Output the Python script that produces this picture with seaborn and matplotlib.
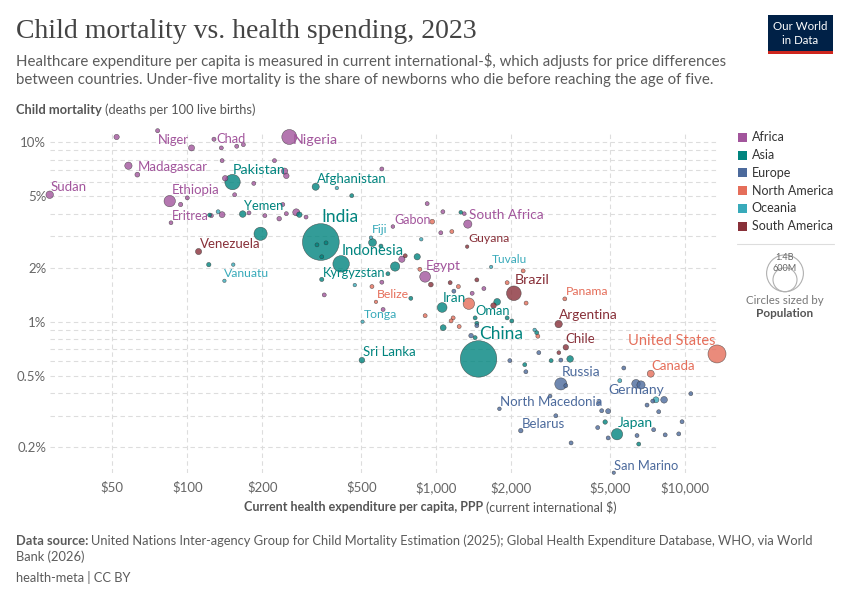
import matplotlib
matplotlib.use("Agg")
import matplotlib.pyplot as plt
import seaborn as sns
import pandas as pd
from matplotlib.patches import Rectangle, Ellipse
from matplotlib.lines import Line2D

W, H = 850, 600

# ---------------- data ----------------
# spend: current health expenditure per capita, PPP ($); mort: under-5 mortality (%); pop: millions
africa_names = ["", "", "Niger", "Chad", "", "", "", "Madagascar", "", "", "", "", "Sudan", "Ethiopia",
                "", "", "", "Eritrea", "", "", "", "", "", "", "", "Nigeria", "", "", "", "",
                "South Africa", "", "", "", "", "", "", "Gabon", "", "Egypt", "", "", "", "", ""]
africa_spend = [52, 76, 104, 128, 137, 158, 168, 58, 63, 138, 142, 185, 28, 85,
                100, 94, 155, 86, 125, 138, 177, 205, 224, 246, 250, 257, 605, 920, 1064, 1297,
                1340, 242, 250, 234, 274, 300, 728, 670, 1044, 903, 1555, 1395, 605, 355, 612]
africa_mort = [10.7, 11.6, 9.3, 10.4, 9.3, 9.5, 9.7, 7.4, 6.6, 7.9, 6.3, 5.9, 5.1, 4.7,
               4.9, 4.5, 5.1, 3.56, 3.9, 3.95, 4.04, 3.9, 7.9, 6.9, 6.5, 10.7, 7.1, 4.55, 4.1, 4.0,
               3.5, 4.5, 4.0, 3.75, 4.07, 3.83, 2.23, 3.39, 3.13, 1.78, 1.53, 1.44, 1.66, 1.41, 1.17]
africa_pop = [18, 6, 27, 6, 5, 5, 5, 45, 13, 5, 20, 5, 48, 126,
              5, 8, 5, 3.7, 5, 25, 5, 5, 5, 30, 20, 228, 5, 5, 5, 3,
              60, 5, 5, 10, 40, 5, 30, 2.4, 5, 113, 5, 5, 5, 5, 5]

asia_names = ["Pakistan", "", "Yemen", "", "", "Afghanistan", "", "", "", "India", "", "", "",
              "Indonesia", "", "", "", "", "Kyrgyzstan", "", "Sri Lanka", "", "Iran", "", "Oman", "",
              "", "China", "", "", "", "", "", "", "", "", "Japan", ""]
asia_spend = [152, 123, 167, 197, 122, 328, 458, 1256, 282, 344, 332, 361, 347,
              415, 555, 600, 839, 684, 347, 640, 503, 791, 1057, 1758, 1434, 1067,
              1434, 1480, 1457, 3453, 2897, 2270, 1928, 2014, 2536, 4775, 5330, 6515]
asia_mort = [6.0, 3.93, 3.98, 3.09, 2.08, 5.65, 5.04, 4.07, 3.95, 2.78, 2.68, 2.75, 2.30,
             2.1, 2.76, 2.64, 2.3, 2.03, 1.72, 1.85, 0.61, 1.35, 1.2, 1.29, 1.05, 0.926,
             0.815, 0.62, 0.98, 0.62, 0.607, 0.576, 1.05, 1.01, 0.868, 0.276, 0.236, 0.208]
asia_pop = [240, 5, 34, 173, 8, 42, 5, 3, 20, 1430, 5, 5, 5,
            277, 54, 5, 30, 80, 7, 5, 22, 5, 89, 36, 5, 25,
            5, 1410, 5, 34, 5, 5, 5, 5, 5, 9, 124, 5]

europe_names = ["", "", "North Macedonia", "", "", "", "", "Russia", "", "", "Belarus", "", "", "",
                "", "", "", "", "Germany", "", "", "", "", "", "", "", "", "", "", "", "", "San Marino", ""]
europe_spend = [1178, 1381, 1795, 1977, 2293, 2585, 3170, 3169, 3318, 2870, 2188, 3025, 3484, 4500,
                4625, 4910, 4457, 4910, 6353, 6653, 5675, 10550, 8236, 7418, 7035, 7838, 7480, 6412,
                8320, 9435, 9727, 5172, 1457]
europe_mort = [1.48, 0.836, 0.327, 0.607, 0.526, 0.672, 0.611, 0.45, 0.44, 0.385, 0.247, 0.299, 0.211, 0.354,
               0.319, 0.317, 0.257, 0.225, 0.451, 0.444, 0.552, 0.397, 0.367, 0.361, 0.343, 0.315, 0.25, 0.232,
               0.234, 0.237, 0.277, 0.144, 0.95]
europe_pop = [5, 10, 2, 5, 5, 5, 5, 144, 5, 3, 9, 5, 5, 5,
              5, 15, 5, 5, 65, 60, 5, 5, 35, 5, 5, 5, 5, 5,
              5, 5, 5, 0.03, 5]

namerica_names = ["United States", "Canada", "", "Panama", "Belize", "", "", "", "", "", "", "", "", "",
                  "", "", "", ""]
namerica_spend = [13440, 7280, 1353, 3288, 573, 964, 1156, 860, 1228, 1928, 2236, 2298, 903, 1170,
                  1148, 1237, 552, 2562]
namerica_mort = [0.661, 0.513, 1.26, 1.34, 1.29, 3.61, 3.18, 1.96, 1.57, 1.65, 1.92, 1.27, 1.08, 1.05,
                 1.01, 0.94, 1.57, 0.83]
namerica_pop = [335, 40, 128, 4.4, 0.4, 12, 5, 5, 5, 5, 5, 5, 5, 5,
                5, 5, 5, 5]

oceania_names = ["", "", "Vanuatu", "", "Fiji", "", "Tuvalu", "", "Tonga", "", "", ""]
oceania_spend = [133, 153, 141, 399, 547, 871, 1663, 471, 506, 2487, 5468, 7640]
oceania_mort = [4.1, 2.08, 1.69, 5.56, 2.94, 2.88, 2.02, 1.6, 1.0, 0.9, 0.469, 0.367]
oceania_pop = [5, 1, 0.3, 1, 0.9, 1, 0.01, 1, 0.1, 1, 5, 26]

samerica_names = ["Venezuela", "Guyana", "Brazil", "Argentina", "Chile", "", "", "", "", "", ""]
samerica_spend = [111, 1332, 2052, 3105, 3318, 3111, 1700, 751, 952, 1138, 1457]
samerica_mort = [2.46, 2.62, 1.44, 0.97, 0.72, 0.672, 1.23, 2.33, 1.61, 1.65, 1.71]
samerica_pop = [28, 0.8, 216, 46, 20, 3.5, 20, 5, 12, 5, 5]

regions = ["Africa", "Asia", "Europe", "North America", "Oceania", "South America"]
x_ticks = [50, 100, 200, 500, 1000, 2000, 5000, 10000]
x_tick_labels = ["$50", "$100", "$200", "$500", "$1,000", "$2,000", "$5,000", "$10,000"]
y_ticks = [0.2, 0.5, 1, 2, 5, 10]
y_tick_labels = ["0.2%", "0.5%", "1%", "2%", "5%", "10%"]
y_grid = [0.2, 0.3, 0.4, 0.5, 0.6, 0.7, 0.8, 0.9, 1, 2, 3, 4, 5, 6, 7, 8, 9, 10]

colors = {"Africa": "#A2559C", "Asia": "#00847E", "Europe": "#4C6A9C",
          "North America": "#E56E5A", "Oceania": "#38AABA", "South America": "#883039"}

# ---------------- assemble ----------------
parts = []
for reg, n, s, m, p in [
    ("Africa", africa_names, africa_spend, africa_mort, africa_pop),
    ("Asia", asia_names, asia_spend, asia_mort, asia_pop),
    ("Europe", europe_names, europe_spend, europe_mort, europe_pop),
    ("North America", namerica_names, namerica_spend, namerica_mort, namerica_pop),
    ("Oceania", oceania_names, oceania_spend, oceania_mort, oceania_pop),
    ("South America", samerica_names, samerica_spend, samerica_mort, samerica_pop)]:
    parts.append(pd.DataFrame({"name": n, "region": reg, "spend": s, "mort": m, "pop": p}))
df = pd.concat(parts, ignore_index=True)
df = df.sort_values("pop", ascending=False, kind="stable")

# label placement (pixel offsets from the point, alignment, font size)
label_style = {
    "Niger": (-3, 8, "right", 9.3), "Chad": (2, 0, "left", 9.3), "Madagascar": (9, -1, "left", 9.5),
    "Sudan": (1, 8, "left", 9.5), "Ethiopia": (2, 11, "left", 9.5), "Eritrea": (1, 7, "left", 9.0),
    "Pakistan": (0, 12, "left", 10.3), "Yemen": (1, 8, "left", 9.3), "Nigeria": (3, -3, "left", 10.3),
    "Afghanistan": (1, 8, "left", 9.5), "India": (1, 25, "left", 12.5), "Venezuela": (1, 8, "left", 9.5),
    "Vanuatu": (0, 7, "left", 8.8), "Gabon": (1, 7, "left", 9.0), "Fiji": (1, 8, "left", 8.8),
    "Indonesia": (1, 13, "left", 10.5), "Kyrgyzstan": (1, 6, "left", 9.3), "South Africa": (1, 9, "left", 9.8),
    "Guyana": (1, 8, "left", 8.8), "Tuvalu": (1, 7, "left", 8.6), "Egypt": (1, 11, "left", 10.0),
    "Brazil": (1, 13, "left", 10.3), "Panama": (1, 7, "left", 8.8), "Belize": (1, 7, "left", 8.8),
    "Iran": (1, 9, "left", 9.8), "Oman": (0, 7, "left", 9.3), "Tonga": (1, 7, "left", 8.8),
    "Argentina": (0, 9, "left", 9.8), "China": (1, 25, "left", 12.5), "Chile": (0, 8, "left", 9.5),
    "United States": (-2, 13, "right", 10.5), "Sri Lanka": (1, 8, "left", 9.5), "Canada": (1, 8, "left", 9.5),
    "Russia": (1, 12, "left", 10.0), "Germany": (0, -6, "center", 10.0),
    "North Macedonia": (1, 7, "left", 9.5), "Belarus": (1, 7, "left", 9.5), "Japan": (1, 11, "left", 10.0),
    "San Marino": (0, 7, "left", 9.3),
}

# ---------------- figure ----------------
sns.set_theme(style="white")
plt.rcParams['font.family'] = ['Lato', 'DejaVu Sans']

fig = plt.figure(figsize=(W / 100, H / 100), dpi=100)
fig.patch.set_facecolor("white")


def fx(x):
    return x / W


def fy(y):
    return 1 - y / H


ax_l, ax_r, ax_t, ax_b = 49.7, 717, 130.7, 472.7
ax = fig.add_axes([fx(ax_l), fy(ax_b), fx(ax_r) - fx(ax_l), fy(ax_t) - fy(ax_b)])
ax.set_xscale("log")
ax.set_yscale("log")
ax.set_facecolor("none")

for v in y_grid:
    ax.axhline(v, color="#dddddd", lw=0.8, ls=(0, (4, 3)), zorder=0)
for v in x_ticks:
    ax.axvline(v, color="#dddddd", lw=0.8, ls=(0, (4, 3)), zorder=0)

sns.scatterplot(data=df, x="spend", y="mort", hue="region", palette=colors, hue_order=regions,
                size="pop", sizes=(6, 700), size_norm=(0, 1430), alpha=0.8,
                edgecolor=(0.2, 0.2, 0.2), linewidth=0.35, legend=False, ax=ax,
                clip_on=False, zorder=3)

ax.set_xlim(df["spend"].min(), df["spend"].max())
ax.set_ylim(df["mort"].min(), df["mort"].max())

ax.xaxis.set_minor_locator(matplotlib.ticker.NullLocator())
ax.yaxis.set_minor_locator(matplotlib.ticker.NullLocator())
ax.set_xticks(x_ticks)
ax.set_xticklabels(x_tick_labels)
ax.set_yticks(y_ticks)
ax.set_yticklabels(y_tick_labels)
ax.tick_params(axis="both", length=0, labelsize=9.5, labelcolor="#666666")
ax.tick_params(axis="x", pad=6)
ax.tick_params(axis="y", pad=2.5)
for sp in ax.spines.values():
    sp.set_visible(False)
ax.set_xlabel("")
ax.set_ylabel("")
ax.grid(False)

for _, row in df.iterrows():
    if row["name"] in label_style:
        dx, dy, ha, fs = label_style[row["name"]]
        ax.annotate(row["name"], (row["spend"], row["mort"]), xytext=(dx, dy),
                    textcoords="offset pixels", ha=ha, va="center", fontsize=fs,
                    color=colors[row["region"]], zorder=6, annotation_clip=False)

# ---------------- text helpers ----------------
renderer = fig.canvas.get_renderer()


def mixed(x, y, segs, fs, color, ha="left"):
    objs = []
    widths = []
    for txt, wt in segs:
        t = fig.text(0, 0, txt, fontsize=fs, fontweight=wt, color=color, va="center", ha="left")
        widths.append(t.get_window_extent(renderer).width)
        objs.append(t)
    gap = fs * 0.3
    total = sum(widths) + gap * (len(segs) - 1)
    cur = x if ha == "left" else x - total / 2
    for t, w in zip(objs, widths):
        t.set_position((fx(cur), fy(y)))
        cur += w + gap


fig.text(fx(16), fy(31), "Child mortality vs. health spending, 2023", fontsize=20,
         family=["Liberation Serif", "DejaVu Serif"], color="#444444", va="center", ha="left")
fig.text(fx(16), fy(61), "Healthcare expenditure per capita is measured in current international-$, which adjusts for price differences",
         fontsize=10.8, color="#5b5b5b", va="center", ha="left")
fig.text(fx(16), fy(80), "between countries. Under-five mortality is the share of newborns who die before reaching the age of five.",
         fontsize=10.8, color="#5b5b5b", va="center", ha="left")

mixed(16, 110, [("Child mortality", "bold"), ("(deaths per 100 live births)", "normal")], 9.3, "#555555")
mixed(430, 507, [("Current health expenditure per capita, PPP", "bold"), ("(current international $)", "normal")],
      9.0, "#555555", ha="center")

mixed(16, 541, [("Data source:", "bold"),
                ("United Nations Inter-agency Group for Child Mortality Estimation (2025); Global Health Expenditure Database, WHO, via World", "normal")],
      9.3, "#5b5b5b")
fig.text(fx(16), fy(557), "Bank (2026)", fontsize=9.3, color="#5b5b5b", va="center", ha="left")
fig.text(fx(16), fy(577), "health-meta | CC BY", fontsize=9.3, color="#5b5b5b", va="center", ha="left")

# logo
fig.patches.append(Rectangle((fx(768), fy(51)), fx(833) - fx(768), fy(15) - fy(51),
                             transform=fig.transFigure, facecolor="#002147", edgecolor="none"))
fig.patches.append(Rectangle((fx(768), fy(53.5)), fx(833) - fx(768), fy(51) - fy(53.5),
                             transform=fig.transFigure, facecolor="#ce261e", edgecolor="none"))
fig.text(fx(800.5), fy(27), "Our World", fontsize=8.3, color="white", ha="center", va="center")
fig.text(fx(800.5), fy(40), "in Data", fontsize=8.3, color="white", ha="center", va="center")

# colour legend
leg_y = [137.3, 155, 172.7, 190.7, 208.3, 226]
for reg, yy in zip(regions, leg_y):
    fig.patches.append(Rectangle((fx(737.5), fy(yy + 4.5)), fx(746.5) - fx(737.5), fy(yy - 4.5) - fy(yy + 4.5),
                                 transform=fig.transFigure, facecolor=colors[reg], edgecolor="none"))
    fig.text(fx(751.5), fy(yy), reg, fontsize=9.0, color="#333333", va="center", ha="left")

fig.lines.append(Line2D([fx(737), fx(834)], [fy(244.3), fy(244.3)], transform=fig.transFigure,
                        color="#dddddd", lw=0.8))

# size legend
for r in [18.4, 12.0]:
    cy = 291.7 - r
    fig.patches.append(Ellipse((fx(785), fy(cy)), 2 * r / W, 2 * r / H, transform=fig.transFigure,
                               fill=False, edgecolor="#b0b0b0", lw=0.8))
fig.text(fx(785), fy(257.5), "1.4B", fontsize=6.5, color="#666666", ha="center", va="center")
fig.text(fx(785), fy(268.5), "600M", fontsize=6.5, color="#666666", ha="center", va="center")
fig.text(fx(785), fy(300), "Circles sized by", fontsize=8.3, color="#777777", ha="center", va="center")
fig.text(fx(785), fy(313.3), "Population", fontsize=8.5, fontweight="bold", color="#555555", ha="center", va="center")

fig.savefig("out.png", dpi=100, facecolor="white")
